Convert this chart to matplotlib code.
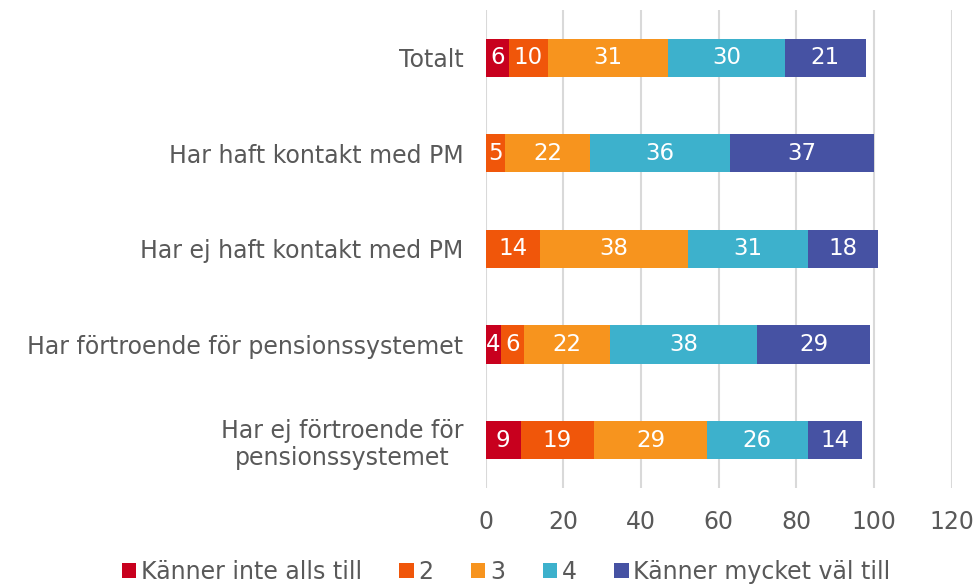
import numpy as np
import matplotlib
matplotlib.use("Agg")
import matplotlib.pyplot as plt

plt.rcParams["font.family"] = ["DejaVu Sans"]

categories = ["Totalt", "Har haft kontakt med PM", "Har ej haft kontakt med PM",
              "Har förtroende för pensionssystemet",
              "Har ej förtroende för\npensionssystemet"]
series_names = ["Känner inte alls till", "2", "3", "4", "Känner mycket väl till"]
values = [
    [6, 0, 0, 4, 9],
    [10, 5, 14, 6, 19],
    [31, 22, 38, 22, 29],
    [30, 36, 31, 38, 26],
    [21, 37, 18, 29, 14],
]
colors = ["#C8001E", "#F0560A", "#F7941E", "#3DB1CC", "#4652A3"]

fig = plt.figure(figsize=(9.77, 5.85), dpi=100)
ax = fig.add_axes([0.497, 0.166, 0.477, 0.817])

y = np.arange(len(categories))
left = np.zeros(len(categories))
for name, vals, c in zip(series_names, values, colors):
    vals = np.array(vals, dtype=float)
    bars = ax.barh(y, vals, left=left, height=0.4, color=c, label=name, zorder=3)
    for b, v in zip(bars, vals):
        if v > 0:
            ax.text(b.get_x() + b.get_width() / 2, b.get_y() + b.get_height() / 2,
                    "%d" % v, ha="center", va="center", color="white", fontsize=16.5, zorder=4)
    left += vals

ax.set_xlim(0, 120)
ax.set_ylim(len(categories) - 0.5, -0.5)
ax.set_xticks(np.arange(0, 121, 20))
ax.set_yticks(y)
ax.set_yticklabels(categories, multialignment="center")
ax.grid(axis="x", color="#D9D9D9", linewidth=1.5, zorder=0)
for s in ax.spines.values():
    s.set_visible(False)
ax.tick_params(axis="y", length=0, pad=16, labelsize=17, labelcolor="#595959")
ax.tick_params(axis="x", length=0, pad=16, labelsize=17, labelcolor="#595959")

fig.legend(loc="lower center", bbox_to_anchor=(0.518, -0.035), ncol=5, frameon=False,
           fontsize=17, handlelength=0.6, handleheight=0.6, handletextpad=0.2,
           columnspacing=1.6, labelcolor="#595959")

fig.savefig("out.png", dpi=100)
